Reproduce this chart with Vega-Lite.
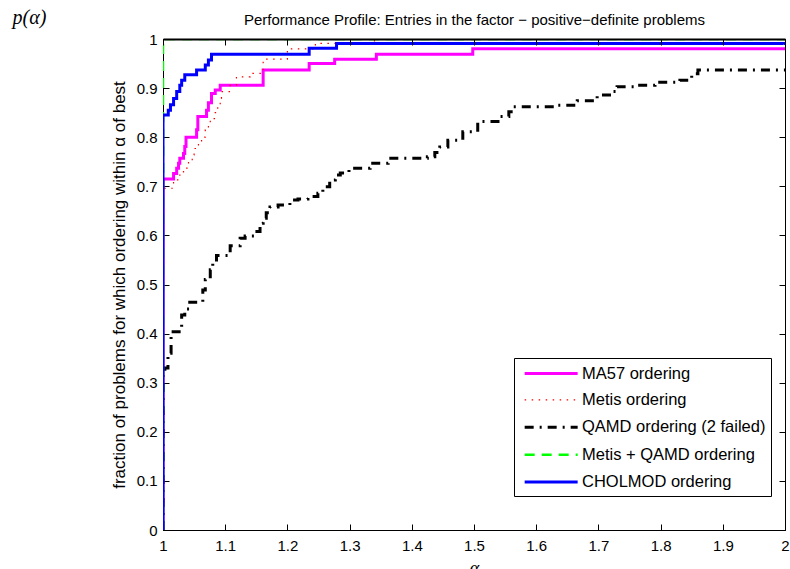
{
  "$schema": "https://vega.github.io/schema/vega-lite/v6.json",
  "width": 622,
  "height": 491,
  "autosize": {"type": "none"},
  "padding": {"left": 163, "top": 39, "right": 5, "bottom": 39},
  "background": "white",
  "config": {
    "view": {"stroke": "black", "strokeWidth": 1},
    "font": "Liberation Sans",
    "axis": {
      "grid": false,
      "domainColor": "black",
      "domainWidth": 1,
      "tickColor": "black",
      "tickWidth": 1,
      "tickSize": -6,
      "labelColor": "black",
      "titleColor": "black",
      "labelFont": "Liberation Sans",
      "labelFontSize": 15,
      "titleFont": "Liberation Sans",
      "titleFontWeight": "normal"
    },
    "legend": {
      "orient": "none",
      "legendX": 351,
      "legendY": 319,
      "padding": 5,
      "strokeColor": "black",
      "strokeWidth": 1,
      "fillColor": "white",
      "symbolType": "M-1,0H5",
      "symbolSize": 312,
      "symbolOffset": 4,
      "labelFont": "Liberation Sans",
      "labelFontSize": 16.5,
      "labelColor": "black",
      "labelOffset": 38,
      "labelLimit": 400,
      "rowPadding": 8.4
    }
  },
  "datasets": {
    "profiles": [
      {"series": "MA57 ordering", "k": 0, "alpha": 1, "p": 0},
      {"series": "MA57 ordering", "k": 1, "alpha": 1, "p": 0.715},
      {"series": "MA57 ordering", "k": 2, "alpha": 1.017, "p": 0.726},
      {"series": "MA57 ordering", "k": 3, "alpha": 1.022, "p": 0.737},
      {"series": "MA57 ordering", "k": 4, "alpha": 1.025, "p": 0.747},
      {"series": "MA57 ordering", "k": 5, "alpha": 1.027, "p": 0.757},
      {"series": "MA57 ordering", "k": 6, "alpha": 1.033, "p": 0.767},
      {"series": "MA57 ordering", "k": 7, "alpha": 1.035, "p": 0.781},
      {"series": "MA57 ordering", "k": 8, "alpha": 1.037, "p": 0.8},
      {"series": "MA57 ordering", "k": 9, "alpha": 1.054, "p": 0.815},
      {"series": "MA57 ordering", "k": 10, "alpha": 1.056, "p": 0.842},
      {"series": "MA57 ordering", "k": 11, "alpha": 1.07, "p": 0.855},
      {"series": "MA57 ordering", "k": 12, "alpha": 1.073, "p": 0.87},
      {"series": "MA57 ordering", "k": 13, "alpha": 1.078, "p": 0.889},
      {"series": "MA57 ordering", "k": 14, "alpha": 1.084, "p": 0.896},
      {"series": "MA57 ordering", "k": 15, "alpha": 1.092, "p": 0.906},
      {"series": "MA57 ordering", "k": 16, "alpha": 1.161, "p": 0.937},
      {"series": "MA57 ordering", "k": 17, "alpha": 1.235, "p": 0.95},
      {"series": "MA57 ordering", "k": 18, "alpha": 1.276, "p": 0.959},
      {"series": "MA57 ordering", "k": 19, "alpha": 1.343, "p": 0.969},
      {"series": "MA57 ordering", "k": 20, "alpha": 1.498, "p": 0.98},
      {"series": "MA57 ordering", "k": 21, "alpha": 2, "p": 0.98},

      {"series": "Metis ordering", "k": 0, "alpha": 1, "p": 0},
      {"series": "Metis ordering", "k": 1, "alpha": 1, "p": 0.696},
      {"series": "Metis ordering", "k": 2, "alpha": 1.017, "p": 0.713},
      {"series": "Metis ordering", "k": 3, "alpha": 1.027, "p": 0.723},
      {"series": "Metis ordering", "k": 4, "alpha": 1.033, "p": 0.737},
      {"series": "Metis ordering", "k": 5, "alpha": 1.041, "p": 0.75},
      {"series": "Metis ordering", "k": 6, "alpha": 1.047, "p": 0.764},
      {"series": "Metis ordering", "k": 7, "alpha": 1.05, "p": 0.777},
      {"series": "Metis ordering", "k": 8, "alpha": 1.057, "p": 0.788},
      {"series": "Metis ordering", "k": 9, "alpha": 1.062, "p": 0.8},
      {"series": "Metis ordering", "k": 10, "alpha": 1.068, "p": 0.815},
      {"series": "Metis ordering", "k": 11, "alpha": 1.073, "p": 0.825},
      {"series": "Metis ordering", "k": 12, "alpha": 1.076, "p": 0.838},
      {"series": "Metis ordering", "k": 13, "alpha": 1.084, "p": 0.85},
      {"series": "Metis ordering", "k": 14, "alpha": 1.088, "p": 0.862},
      {"series": "Metis ordering", "k": 15, "alpha": 1.092, "p": 0.879},
      {"series": "Metis ordering", "k": 16, "alpha": 1.094, "p": 0.893},
      {"series": "Metis ordering", "k": 17, "alpha": 1.108, "p": 0.906},
      {"series": "Metis ordering", "k": 18, "alpha": 1.118, "p": 0.923},
      {"series": "Metis ordering", "k": 19, "alpha": 1.14, "p": 0.93},
      {"series": "Metis ordering", "k": 20, "alpha": 1.161, "p": 0.959},
      {"series": "Metis ordering", "k": 21, "alpha": 1.2, "p": 0.98},
      {"series": "Metis ordering", "k": 22, "alpha": 1.245, "p": 0.991},
      {"series": "Metis ordering", "k": 23, "alpha": 1.34, "p": 1},
      {"series": "Metis ordering", "k": 24, "alpha": 2, "p": 1},

      {"series": "QAMD ordering (2 failed)", "k": 0, "alpha": 1, "p": 0},
      {"series": "QAMD ordering (2 failed)", "k": 1, "alpha": 1, "p": 0.32},
      {"series": "QAMD ordering (2 failed)", "k": 2, "alpha": 1.003, "p": 0.33},
      {"series": "QAMD ordering (2 failed)", "k": 3, "alpha": 1.008, "p": 0.36},
      {"series": "QAMD ordering (2 failed)", "k": 4, "alpha": 1.013, "p": 0.404},
      {"series": "QAMD ordering (2 failed)", "k": 5, "alpha": 1.03, "p": 0.438},
      {"series": "QAMD ordering (2 failed)", "k": 6, "alpha": 1.035, "p": 0.45},
      {"series": "QAMD ordering (2 failed)", "k": 7, "alpha": 1.043, "p": 0.464},
      {"series": "QAMD ordering (2 failed)", "k": 8, "alpha": 1.064, "p": 0.489},
      {"series": "QAMD ordering (2 failed)", "k": 9, "alpha": 1.068, "p": 0.51},
      {"series": "QAMD ordering (2 failed)", "k": 10, "alpha": 1.076, "p": 0.53},
      {"series": "QAMD ordering (2 failed)", "k": 11, "alpha": 1.08, "p": 0.545},
      {"series": "QAMD ordering (2 failed)", "k": 12, "alpha": 1.086, "p": 0.559},
      {"series": "QAMD ordering (2 failed)", "k": 13, "alpha": 1.108, "p": 0.579},
      {"series": "QAMD ordering (2 failed)", "k": 14, "alpha": 1.124, "p": 0.594},
      {"series": "QAMD ordering (2 failed)", "k": 15, "alpha": 1.132, "p": 0.599},
      {"series": "QAMD ordering (2 failed)", "k": 16, "alpha": 1.151, "p": 0.608},
      {"series": "QAMD ordering (2 failed)", "k": 17, "alpha": 1.156, "p": 0.625},
      {"series": "QAMD ordering (2 failed)", "k": 18, "alpha": 1.161, "p": 0.635},
      {"series": "QAMD ordering (2 failed)", "k": 19, "alpha": 1.166, "p": 0.646},
      {"series": "QAMD ordering (2 failed)", "k": 20, "alpha": 1.172, "p": 0.658},
      {"series": "QAMD ordering (2 failed)", "k": 21, "alpha": 1.185, "p": 0.662},
      {"series": "QAMD ordering (2 failed)", "k": 22, "alpha": 1.204, "p": 0.672},
      {"series": "QAMD ordering (2 failed)", "k": 23, "alpha": 1.217, "p": 0.674},
      {"series": "QAMD ordering (2 failed)", "k": 24, "alpha": 1.233, "p": 0.679},
      {"series": "QAMD ordering (2 failed)", "k": 25, "alpha": 1.249, "p": 0.686},
      {"series": "QAMD ordering (2 failed)", "k": 26, "alpha": 1.257, "p": 0.699},
      {"series": "QAMD ordering (2 failed)", "k": 27, "alpha": 1.268, "p": 0.713},
      {"series": "QAMD ordering (2 failed)", "k": 28, "alpha": 1.277, "p": 0.723},
      {"series": "QAMD ordering (2 failed)", "k": 29, "alpha": 1.285, "p": 0.727},
      {"series": "QAMD ordering (2 failed)", "k": 30, "alpha": 1.299, "p": 0.737},
      {"series": "QAMD ordering (2 failed)", "k": 31, "alpha": 1.333, "p": 0.747},
      {"series": "QAMD ordering (2 failed)", "k": 32, "alpha": 1.362, "p": 0.757},
      {"series": "QAMD ordering (2 failed)", "k": 33, "alpha": 1.425, "p": 0.76},
      {"series": "QAMD ordering (2 failed)", "k": 34, "alpha": 1.437, "p": 0.769},
      {"series": "QAMD ordering (2 failed)", "k": 35, "alpha": 1.445, "p": 0.78},
      {"series": "QAMD ordering (2 failed)", "k": 36, "alpha": 1.458, "p": 0.794},
      {"series": "QAMD ordering (2 failed)", "k": 37, "alpha": 1.482, "p": 0.811},
      {"series": "QAMD ordering (2 failed)", "k": 38, "alpha": 1.506, "p": 0.832},
      {"series": "QAMD ordering (2 failed)", "k": 39, "alpha": 1.542, "p": 0.842},
      {"series": "QAMD ordering (2 failed)", "k": 40, "alpha": 1.556, "p": 0.852},
      {"series": "QAMD ordering (2 failed)", "k": 41, "alpha": 1.563, "p": 0.862},
      {"series": "QAMD ordering (2 failed)", "k": 42, "alpha": 1.633, "p": 0.865},
      {"series": "QAMD ordering (2 failed)", "k": 43, "alpha": 1.666, "p": 0.874},
      {"series": "QAMD ordering (2 failed)", "k": 44, "alpha": 1.698, "p": 0.886},
      {"series": "QAMD ordering (2 failed)", "k": 45, "alpha": 1.723, "p": 0.893},
      {"series": "QAMD ordering (2 failed)", "k": 46, "alpha": 1.73, "p": 0.903},
      {"series": "QAMD ordering (2 failed)", "k": 47, "alpha": 1.759, "p": 0.906},
      {"series": "QAMD ordering (2 failed)", "k": 48, "alpha": 1.791, "p": 0.912},
      {"series": "QAMD ordering (2 failed)", "k": 49, "alpha": 1.831, "p": 0.916},
      {"series": "QAMD ordering (2 failed)", "k": 50, "alpha": 1.842, "p": 0.92},
      {"series": "QAMD ordering (2 failed)", "k": 51, "alpha": 1.85, "p": 0.929},
      {"series": "QAMD ordering (2 failed)", "k": 52, "alpha": 1.86, "p": 0.937},
      {"series": "QAMD ordering (2 failed)", "k": 53, "alpha": 2, "p": 0.937},

      {"series": "Metis + QAMD ordering", "k": 0, "alpha": 1, "p": 0},
      {"series": "Metis + QAMD ordering", "k": 1, "alpha": 1, "p": 1},
      {"series": "Metis + QAMD ordering", "k": 2, "alpha": 2, "p": 1},

      {"series": "CHOLMOD ordering", "k": 0, "alpha": 1, "p": 0},
      {"series": "CHOLMOD ordering", "k": 1, "alpha": 1, "p": 0.845},
      {"series": "CHOLMOD ordering", "k": 2, "alpha": 1.0085, "p": 0.855},
      {"series": "CHOLMOD ordering", "k": 3, "alpha": 1.012, "p": 0.866},
      {"series": "CHOLMOD ordering", "k": 4, "alpha": 1.017, "p": 0.879},
      {"series": "CHOLMOD ordering", "k": 5, "alpha": 1.022, "p": 0.893},
      {"series": "CHOLMOD ordering", "k": 6, "alpha": 1.027, "p": 0.906},
      {"series": "CHOLMOD ordering", "k": 7, "alpha": 1.03, "p": 0.916},
      {"series": "CHOLMOD ordering", "k": 8, "alpha": 1.035, "p": 0.927},
      {"series": "CHOLMOD ordering", "k": 9, "alpha": 1.054, "p": 0.937},
      {"series": "CHOLMOD ordering", "k": 10, "alpha": 1.068, "p": 0.947},
      {"series": "CHOLMOD ordering", "k": 11, "alpha": 1.073, "p": 0.957},
      {"series": "CHOLMOD ordering", "k": 12, "alpha": 1.078, "p": 0.969},
      {"series": "CHOLMOD ordering", "k": 13, "alpha": 1.235, "p": 0.981},
      {"series": "CHOLMOD ordering", "k": 14, "alpha": 1.279, "p": 0.991},
      {"series": "CHOLMOD ordering", "k": 15, "alpha": 2, "p": 0.991}
    ]
  },
  "layer": [
    {
      "data": {"name": "profiles"},
      "mark": {"type": "line", "interpolate": "step-after", "clip": true},
      "encoding": {
        "x": {
          "field": "alpha",
          "type": "quantitative",
          "scale": {"domain": [1, 2], "nice": false, "zero": false},
          "axis": {
            "orient": "bottom",
            "values": [1, 1.1, 1.2, 1.3, 1.4, 1.5, 1.6, 1.7, 1.8, 1.9, 2],
            "format": "~g",
            "labelPadding": 14,
            "labelFlush": false,
            "title": "α",
            "titleFont": "Liberation Serif",
            "titleFontStyle": "italic",
            "titleFontSize": 18,
            "titleY": 43,
            "titleBaseline": "alphabetic"
          }
        },
        "y": {
          "field": "p",
          "type": "quantitative",
          "scale": {"domain": [0, 1], "nice": false, "zero": false},
          "axis": {
            "orient": "left",
            "values": [0, 0.1, 0.2, 0.3, 0.4, 0.5, 0.6, 0.7, 0.8, 0.9, 1],
            "format": "~g",
            "labelPadding": 12,
            "labelFlush": false,
            "title": "fraction of problems for which ordering within α of best",
            "titleFontSize": 17,
            "titleX": -44,
            "titleBaseline": "middle"
          }
        },
        "order": {"field": "k", "type": "quantitative"},
        "color": {
          "field": "series",
          "type": "nominal",
          "scale": {
            "domain": ["MA57 ordering", "Metis ordering", "QAMD ordering (2 failed)", "Metis + QAMD ordering", "CHOLMOD ordering"],
            "range": ["#ff00ff", "#ff0000", "#000000", "#00ff00", "#0000ff"]
          },
          "legend": {"title": null}
        },
        "strokeDash": {
          "field": "series",
          "type": "nominal",
          "scale": {
            "domain": ["MA57 ordering", "Metis ordering", "QAMD ordering (2 failed)", "Metis + QAMD ordering", "CHOLMOD ordering"],
            "range": [[1, 0], [1.5, 5.5], [9, 6, 2, 6], [10, 7], [1, 0]]
          },
          "legend": {"title": null}
        },
        "strokeWidth": {
          "field": "series",
          "type": "nominal",
          "scale": {
            "type": "ordinal",
            "domain": ["MA57 ordering", "Metis ordering", "QAMD ordering (2 failed)", "Metis + QAMD ordering", "CHOLMOD ordering"],
            "range": [3, 1.2, 3, 2.5, 3]
          },
          "legend": {"title": null}
        }
      }
    },
    {
      "data": {"name": "profiles"},
      "mark": {"type": "line", "opacity": 0},
      "encoding": {
        "x": {
          "field": "alpha",
          "type": "quantitative",
          "axis": {
            "orient": "top",
            "values": [1, 1.1, 1.2, 1.3, 1.4, 1.5, 1.6, 1.7, 1.8, 1.9, 2],
            "labels": false,
            "zindex": 1,
            "domainWidth": 2,
            "title": "Performance Profile: Entries in the factor − positive−definite problems",
            "titleFontSize": 15,
            "titleY": -15,
            "titleBaseline": "alphabetic"
          }
        },
        "y": {
          "field": "p",
          "type": "quantitative",
          "axis": {
            "orient": "right",
            "values": [0, 0.1, 0.2, 0.3, 0.4, 0.5, 0.6, 0.7, 0.8, 0.9, 1],
            "labels": false,
            "zindex": 1,
            "title": "p(α)",
            "titleFont": "Liberation Serif",
            "titleFontStyle": "italic",
            "titleFontSize": 20,
            "titleAngle": 0,
            "titleAlign": "left",
            "titleBaseline": "alphabetic",
            "titleX": -773,
            "titleY": -16
          }
        }
      }
    }
  ],
  "resolve": {"axis": {"x": "independent", "y": "independent"}}
}
